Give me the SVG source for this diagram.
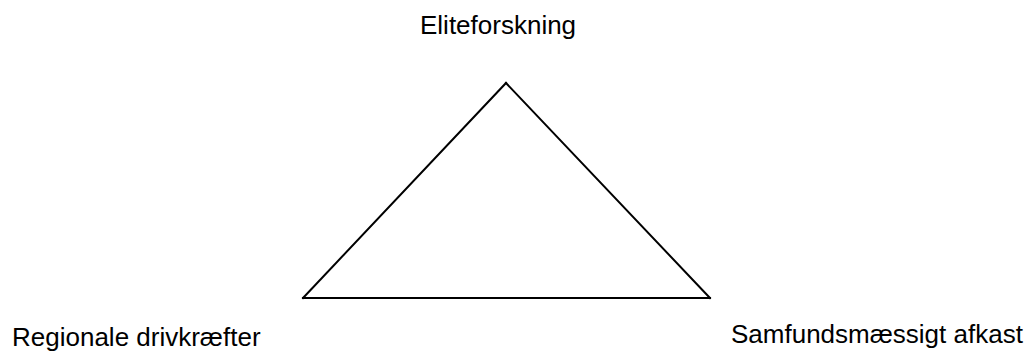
<svg xmlns="http://www.w3.org/2000/svg" width="1031" height="351" viewBox="0 0 1031 351">
<style>
.lbl{font-family:"Liberation Sans",Arial,sans-serif;font-size:26px;fill:#000}
.edge{stroke:#000;stroke-width:2;fill:none;stroke-linecap:square}
</style>
<rect width="1031" height="351" fill="#fff"/>
<g id="connectors">
<line class="edge" x1="506" y1="83" x2="303" y2="298"/>
<line class="edge" x1="506" y1="83" x2="710" y2="298"/>
<line class="edge" x1="303" y1="298" x2="710" y2="298"/>
</g>
<g id="node-eliteforskning"><text class="lbl" x="420" y="34">Eliteforskning</text></g>
<g id="node-regionale"><text class="lbl" x="12" y="346">Regionale drivkræfter</text></g>
<g id="node-samfund"><text class="lbl" x="731" y="343">Samfundsmæssigt afkast</text></g>
</svg>
